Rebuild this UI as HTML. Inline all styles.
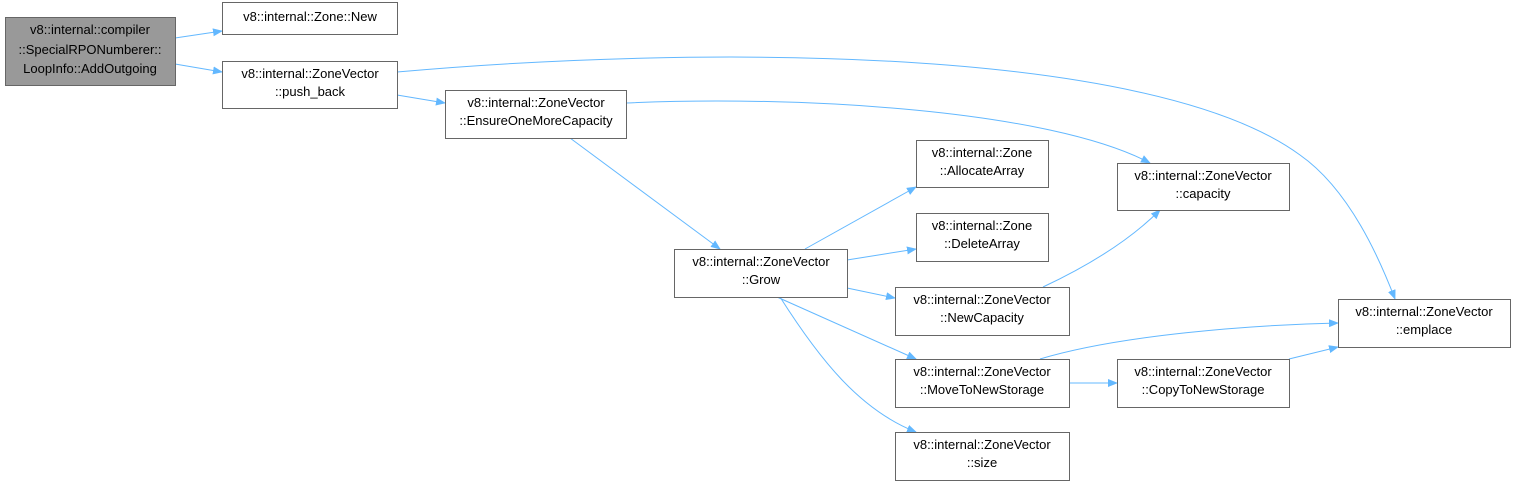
<!DOCTYPE html>
<html><head><meta charset="utf-8"><style>
body{margin:0;background:#fff}
svg text{font-family:"Liberation Sans",sans-serif;font-size:13px;fill:#000}
</style></head><body>
<svg width="1517" height="487" xmlns="http://www.w3.org/2000/svg">
<defs><marker id="a" markerWidth="10" markerHeight="8" refX="9" refY="4" orient="auto" markerUnits="userSpaceOnUse"><path d="M0,0 L10,4 L0,8 z" fill="#63b8ff"/></marker></defs>
<g fill="none" stroke="#63b8ff" stroke-width="1" marker-end="url(#a)">
<path d="M175,38 L222,31"/>
<path d="M175,64 L222,72"/>
<path d="M397,72 C700,45 1150,45 1300,155 C1350,190 1380,260 1395,299"/>
<path d="M397,95 L445,103"/>
<path d="M626,103 C800,95 1050,110 1150,163"/>
<path d="M570,138 L720,249"/>
<path d="M805,249 L916,187"/>
<path d="M847,260 L916,249"/>
<path d="M847,288 L895,298"/>
<path d="M777,297 L916,359"/>
<path d="M780,297 C820,360 860,410 916,432"/>
<path d="M1043,287 C1090,265 1130,240 1160,210"/>
<path d="M1069,383 L1117,383"/>
<path d="M1040,359 C1120,335 1250,325 1338,323"/>
<path d="M1289,359 L1338,347"/>
</g>
<g stroke="#666" stroke-width="1" fill="#fff">
<rect x="5.5" y="17.5" width="170" height="68" fill="#999"/>
<rect x="222.5" y="2.5" width="175" height="32"/>
<rect x="222.5" y="61.5" width="175" height="47"/>
<rect x="445.5" y="90.5" width="181" height="48"/>
<rect x="674.5" y="249.5" width="173" height="48"/>
<rect x="916.5" y="140.5" width="132" height="47"/>
<rect x="916.5" y="213.5" width="132" height="48"/>
<rect x="895.5" y="287.5" width="174" height="48"/>
<rect x="895.5" y="359.5" width="174" height="48"/>
<rect x="895.5" y="432.5" width="174" height="48"/>
<rect x="1117.5" y="163.5" width="172" height="47"/>
<rect x="1117.5" y="359.5" width="172" height="48"/>
<rect x="1338.5" y="299.5" width="172" height="48"/>
</g>
<g text-anchor="middle">
<text x="90" y="34">v8::internal::compiler</text>
<text x="90" y="54">::SpecialRPONumberer::</text>
<text x="90" y="73">LoopInfo::AddOutgoing</text>
<text x="310" y="21">v8::internal::Zone::New</text>
<text x="310" y="78">v8::internal::ZoneVector</text>
<text x="310" y="96">::push_back</text>
<text x="536" y="107">v8::internal::ZoneVector</text>
<text x="536" y="125">::EnsureOneMoreCapacity</text>
<text x="761" y="266">v8::internal::ZoneVector</text>
<text x="761" y="284">::Grow</text>
<text x="982" y="157">v8::internal::Zone</text>
<text x="982" y="175">::AllocateArray</text>
<text x="982" y="230">v8::internal::Zone</text>
<text x="982" y="248">::DeleteArray</text>
<text x="982" y="304">v8::internal::ZoneVector</text>
<text x="982" y="322">::NewCapacity</text>
<text x="982" y="376">v8::internal::ZoneVector</text>
<text x="982" y="394">::MoveToNewStorage</text>
<text x="982" y="449">v8::internal::ZoneVector</text>
<text x="982" y="467">::size</text>
<text x="1203" y="180">v8::internal::ZoneVector</text>
<text x="1203" y="198">::capacity</text>
<text x="1203" y="376">v8::internal::ZoneVector</text>
<text x="1203" y="394">::CopyToNewStorage</text>
<text x="1424" y="316">v8::internal::ZoneVector</text>
<text x="1424" y="334">::emplace</text>
</g>
</svg>
</body></html>
